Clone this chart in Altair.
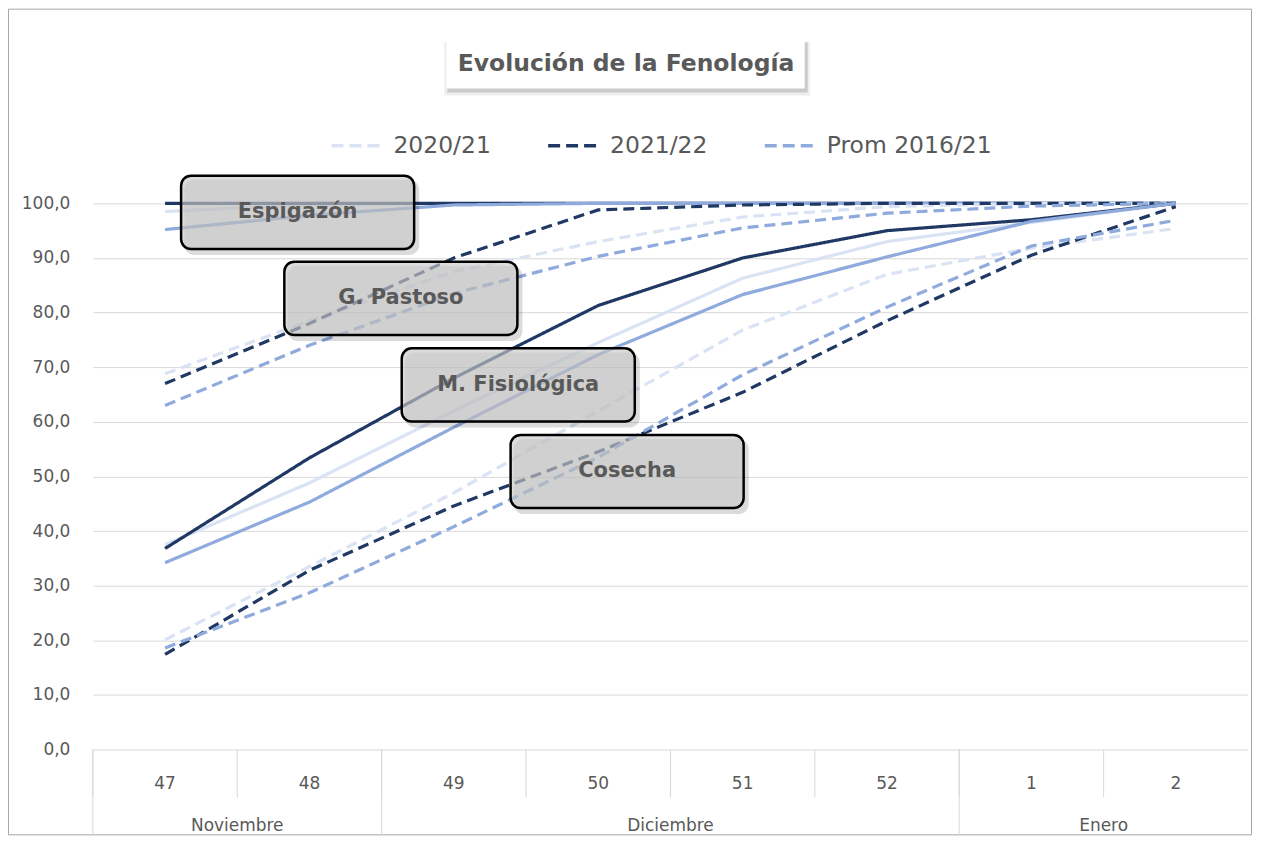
import altair as alt
import pandas as pd

# ---------------- data ----------------
weeks = ["47", "48", "49", "50", "51", "52", "1", "2"]
week_month = ["Noviembre", "Noviembre", "Diciembre", "Diciembre",
              "Diciembre", "Diciembre", "Enero", "Enero"]
seasons = ["2020/21", "2021/22", "Prom 2016/21"]
stages = ["Espigazón", "G. Pastoso", "M. Fisiológica", "Cosecha"]
stage_style = ["solido", "guion", "solido", "guion"]

espigazon_2020_21 = [98.5, 99.8, 100.0, 100.0, 100.0, 100.0, 100.0, 100.0]
espigazon_2021_22 = [100.0, 100.0, 100.0, 100.0, 100.0, 100.0, 100.0, 100.0]
espigazon_prom = [95.2, 97.8, 99.7, 100.0, 100.0, 100.0, 100.0, 100.0]

pastoso_2020_21 = [68.8, 78.5, 87.5, 93.0, 97.5, 99.4, 100.0, 100.0]
pastoso_2021_22 = [67.0, 78.0, 90.0, 98.8, 99.7, 100.0, 100.0, 100.0]
pastoso_prom = [63.0, 74.0, 83.5, 90.3, 95.5, 98.2, 99.5, 100.0]

fisiologica_2020_21 = [37.5, 48.8, 62.0, 74.5, 86.3, 93.0, 96.5, 100.0]
fisiologica_2021_22 = [36.8, 53.4, 68.0, 81.3, 90.0, 95.0, 97.0, 100.0]
fisiologica_prom = [34.2, 45.3, 59.0, 72.3, 83.3, 90.2, 96.7, 100.0]

cosecha_2020_21 = [20.1, 33.5, 47.0, 62.0, 76.8, 87.0, 91.8, 95.4]
cosecha_2021_22 = [17.4, 32.8, 44.6, 54.5, 65.4, 78.5, 90.5, 99.4]
cosecha_prom = [18.6, 28.7, 40.8, 53.5, 68.6, 81.0, 92.2, 96.9]

# annotation boxes (centre in week-index / value units)
ann_x = [0.918, 1.633, 2.446, 3.20]
ann_y = [98.35, 82.6, 66.75, 50.9]

title_text = "Evolución  de la Fenología"

# ---------------- tables ----------------
all_series = [
    [espigazon_2020_21, espigazon_2021_22, espigazon_prom],
    [pastoso_2020_21, pastoso_2021_22, pastoso_prom],
    [fisiologica_2020_21, fisiologica_2021_22, fisiologica_prom],
    [cosecha_2020_21, cosecha_2021_22, cosecha_prom],
]
rows = []
for si, stage in enumerate(stages):
    for ti, season in enumerate(seasons):
        for wi, w in enumerate(weeks):
            rows.append({
                "serie": f"{si}{ti} {stage} {season}",
                "etapa": stage,
                "temporada": season,
                "estilo": stage_style[si],
                "idx": wi,
                "valor": all_series[si][ti][wi],
            })
df = pd.DataFrame(rows)

week_df = pd.DataFrame({"semana": weeks, "idx": list(range(len(weeks)))})
week_df["borde"] = week_df["idx"] - 0.5

month_bounds, month_centers, month_labels = [], [], []
start = 0
for i in range(1, len(weeks) + 1):
    if i == len(weeks) or week_month[i] != week_month[start]:
        month_bounds.append(start - 0.5)
        month_centers.append((start + i - 1) / 2)
        month_labels.append(week_month[start])
        start = i
month_df = pd.DataFrame({"mes": month_labels, "centro": month_centers, "borde": month_bounds})

ann_df = pd.DataFrame({"etiqueta": stages, "xc": ann_x, "yc": ann_y})

# ---------------- scales ----------------
H = 547
W = 1157
xs = alt.Scale(domain=[-0.5, 7.5], nice=False, zero=False)
ys = alt.Scale(domain=[0, 100], nice=False, zero=False)
GRAY = "#595959"
FONT = "DejaVu Sans"

y_axis = alt.Axis(
    values=list(range(0, 101, 10)),
    labelExpr="replace(format(datum.value, '.1f'), '.', ',')",
    grid=True, gridColor="#d9d9d9", gridWidth=1, domain=False, ticks=False,
    labelPadding=23, labelFontSize=17, labelColor=GRAY, labelFont=FONT, title=None)

lines = alt.Chart(df).mark_line(strokeWidth=3.2, interpolate="linear").encode(
    x=alt.X("idx:Q", scale=xs, axis=None),
    y=alt.Y("valor:Q", scale=ys, axis=y_axis),
    color=alt.Color("temporada:N",
                    scale=alt.Scale(domain=seasons, range=["#dae3f3", "#203864", "#8faadc"]),
                    legend=alt.Legend(orient="none", legendX=237, legendY=-84,
                                      direction="horizontal", title=None,
                                      symbolType="stroke", symbolSize=2304,
                                      symbolStrokeWidth=3.5, symbolDash=[12, 6],
                                      labelFontSize=23.5, labelFont=FONT, labelColor=GRAY,
                                      labelLimit=400,
                                      labelOffset=12, columnPadding=50, padding=0)),
    strokeDash=alt.StrokeDash("estilo:N",
                              scale=alt.Scale(domain=["solido", "guion"], range=[[1, 0], [11, 6]]),
                              legend=None),
    detail="serie:N",
)

box_base = alt.Chart(ann_df).transform_calculate(
    x1="datum.xc - 0.807", x2="datum.xc + 0.807",
    y1="datum.yc + 6.7", y2="datum.yc - 6.7",
    sx1="datum.xc - 0.807 + 0.022", sx2="datum.xc + 0.807 + 0.035",
    sy1="datum.yc + 6.7 - 0.75", sy2="datum.yc - 6.7 - 1.1",
)
box_shadow = box_base.mark_rect(cornerRadius=10, fill="#000000", fillOpacity=0.14).encode(
    x=alt.X("sx1:Q", scale=xs, axis=None), x2="sx2:Q",
    y=alt.Y("sy1:Q", scale=ys, axis=y_axis), y2="sy2:Q",
)
boxes = box_base.mark_rect(cornerRadius=10, fill="#cacaca", fillOpacity=0.66,
                           stroke="#000000", strokeWidth=2.5).encode(
    x=alt.X("x1:Q", scale=xs, axis=None), x2="x2:Q",
    y=alt.Y("y1:Q", scale=ys, axis=y_axis), y2="y2:Q",
)
box_text = alt.Chart(ann_df).mark_text(font=FONT, fontWeight="bold", fontSize=21,
                                       color=GRAY, baseline="middle", align="center").encode(
    x=alt.X("xc:Q", scale=xs, axis=None),
    y=alt.Y("yc:Q", scale=ys, axis=y_axis),
    text="etiqueta:N",
)

# category axis (two levels)
week_rules = alt.Chart(week_df).mark_rule(color="#d9d9d9", strokeWidth=1).encode(
    x=alt.X("borde:Q", scale=xs, axis=None), y=alt.value(H), y2=alt.value(H + 48))
week_text = alt.Chart(week_df).mark_text(font=FONT, fontSize=17, color=GRAY, baseline="middle").encode(
    x=alt.X("idx:Q", scale=xs, axis=None), y=alt.value(H + 35), text="semana:N")
month_rules = alt.Chart(month_df).mark_rule(color="#d9d9d9", strokeWidth=1).encode(
    x=alt.X("borde:Q", scale=xs, axis=None), y=alt.value(H), y2=alt.value(H + 86))
month_text = alt.Chart(month_df).mark_text(font=FONT, fontSize=17, color=GRAY, baseline="middle").encode(
    x=alt.X("centro:Q", scale=xs, axis=None), y=alt.value(H + 77), text="mes:N")

# title box + outer border
one = pd.DataFrame({"t": [title_text]})
title_shadow2 = alt.Chart(one).mark_rect(fill="#000000", fillOpacity=0.07).encode(
    x=alt.value(352), x2=alt.value(718), y=alt.value(-162), y2=alt.value(-108))
title_shadow = alt.Chart(one).mark_rect(fill="#000000", fillOpacity=0.14).encode(
    x=alt.value(355), x2=alt.value(716), y=alt.value(-161), y2=alt.value(-111))
title_box = alt.Chart(one).mark_rect(fill="#ffffff").encode(
    x=alt.value(354), x2=alt.value(713), y=alt.value(-163), y2=alt.value(-115))
title = alt.Chart(one).mark_text(font=FONT, fontWeight="bold", fontSize=23.5, color=GRAY,
                                 baseline="middle", align="center").encode(
    x=alt.value(534), y=alt.value(-140), text="t:N")
border = alt.Chart(one).mark_rect(fill="transparent", stroke="#a6a6a6", strokeWidth=1).encode(
    x=alt.value(-84.5), x2=alt.value(W + 3.5), y=alt.value(-194.5), y2=alt.value(H + 85.5))

chart = alt.layer(
    border, title_shadow2, title_shadow, title_box, title,
    week_rules, month_rules, week_text, month_text,
    lines, box_shadow, boxes, box_text,
).properties(
    width=W, height=H,
    autosize=alt.AutoSizeParams(type="none"),
    padding={"left": 85, "top": 195, "right": 6, "bottom": 87},
    background="#ffffff",
).configure_view(stroke=None)

chart.save("out.html", embed_options={"renderer": "svg", "actions": False})
